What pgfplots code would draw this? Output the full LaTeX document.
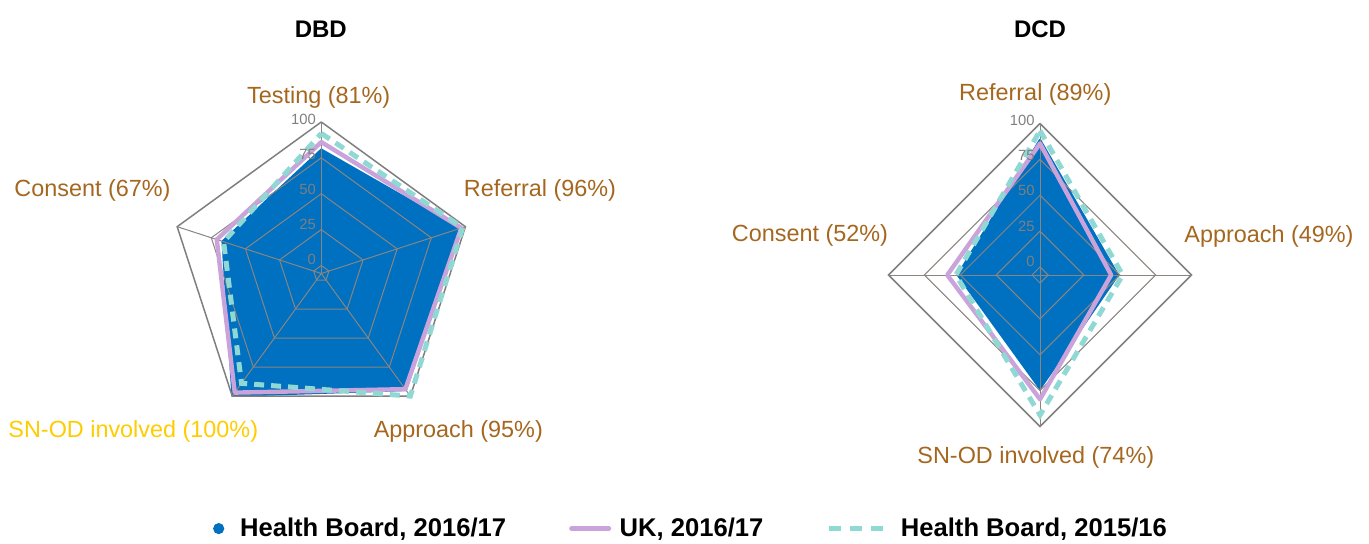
\documentclass[border=0pt]{standalone}
\usepackage{fontspec}
\setmainfont{Liberation Sans}
\usepackage{pgfplots}
\usepackage{pgfplotstable}
\pgfplotsset{compat=1.18}
\definecolor{hbblue}{HTML}{0070C0}
\definecolor{ukpurple}{HTML}{C9A3DA}
\definecolor{hbcyan}{HTML}{8FD8D4}
\definecolor{labbrown}{HTML}{A5671F}
\definecolor{labyellow}{HTML}{FFCC00}
\definecolor{gridgray}{HTML}{8A8580}
\definecolor{outergray}{HTML}{7F7F7F}
\definecolor{ticklab}{HTML}{7F7F7F}

% a = spoke angle (deg), v1 = Health Board 2016/17, v2 = UK 2016/17, v3 = Health Board 2015/16
\pgfplotstableread{
a v1 v2 v3
90 81 86 92
18 96 97 98
-54 95 94 100
-126 100 97 89
162 67 71 66
90 81 86 92
}\dbd
\pgfplotstableread{
a v1 v2 v3
90 89 86 95
0 49 44 52
-90 74 81 92
180 52 59 53
90 89 86 95
}\dcd

\newcommand\labfont{\fontsize{11.7}{14}\selectfont}
\newcommand\tickfont{\fontsize{7.4}{9}\selectfont}
\pgfplotsset{
  radar/.style={x=0.7175pt, y=0.7175pt, xmin=-110, xmax=110, ymin=-110, ymax=110,
    hide axis, clip=false, anchor=center},
  table/rx/.style={x expr={(\thisrow{#1}+5.6)*cos(\thisrow{a})}, y expr={(\thisrow{#1}+5.6)*sin(\thisrow{a})}},
  table/rc/.style={x expr={(#1+5.6)*cos(\thisrow{a})}, y expr={(#1+5.6)*sin(\thisrow{a})}},
}

\begin{document}
\begin{tikzpicture}
\path[use as bounding box] (0pt,0pt) rectangle (684.5pt,271.5pt);

% ---------- DBD ----------
\begin{axis}[radar, at={(160.65pt,134.75pt)},
  legend columns=3,
  legend cell align=left,
  legend style={at={(0.156,-0.308)}, anchor=west, draw=none, fill=none, inner sep=0pt,
    font=\fontsize{12.8}{15}\selectfont\bfseries,
    /tikz/every even column/.append style={column sep=29.5pt}},
]
\addplot[fill=hbblue, draw=hbblue, line width=0.8pt, line join=round,
  legend image code/.code={\path[draw=none, fill=none] (0pt,0pt) -- (11.5pt,0pt); \fill[hbblue, draw=none] (2.8pt,0pt) circle (2.8pt);}]
  table[rx=v1] \dbd;
\addlegendentry{Health Board, 2016/17}
\pgfplotsinvokeforeach{0,25,50,75}{
  \addplot[gridgray, line width=0.5pt, forget plot] table[rc=#1] \dbd;
}
\addplot[outergray, line width=0.75pt, forget plot] table[rc=100] \dbd;
\pgfplotsinvokeforeach{90,18,-54,-126,162}{
  \draw[gridgray, line width=0.5pt] (axis cs:0,0) -- (axis cs:{105.6*cos(#1)},{105.6*sin(#1)});
}
\addplot[ukpurple, line width=2.2pt, line join=round, line cap=round,
  legend image code/.code={\draw[ukpurple, line width=2.5pt] (0pt,0pt) -- (18.5pt,0pt); \path[draw=none, fill=none] (0pt,0pt) -- (22pt,0pt);}]
  table[rx=v2] \dbd;
\addlegendentry{UK, 2016/17}
\addplot[hbcyan, line width=2.5pt, dash pattern=on 5pt off 3.5pt,
  legend image code/.code={\draw[hbcyan, line width=2.5pt, dash pattern=on 6pt off 4.5pt] (0pt,0pt) -- (27pt,0pt); \path[draw=none, fill=none] (0pt,0pt) -- (34pt,0pt);}]
  table[rx=v3] \dbd;
\addlegendentry{Health Board, 2015/16}
\pgfplotsinvokeforeach{0,25,50,75,100}{
  \node[anchor=east, font=\tickfont, text=ticklab, inner sep=2.5pt, yshift={(1.35+0.0165*(100-#1))*1pt}]
    at (axis cs:0,{#1+5.6}) {#1};
}
\end{axis}

% ---------- DCD ----------
\begin{axis}[radar, at={(520pt,134pt)}]
\addplot[fill=hbblue, draw=hbblue, line width=0.8pt, line join=round] table[rx=v1] \dcd;
\pgfplotsinvokeforeach{0,25,50,75}{
  \addplot[gridgray, line width=0.5pt] table[rc=#1] \dcd;
}
\addplot[outergray, line width=0.75pt] table[rc=100] \dcd;
\pgfplotsinvokeforeach{90,0,-90,180}{
  \draw[gridgray, line width=0.5pt] (axis cs:0,0) -- (axis cs:{105.6*cos(#1)},{105.6*sin(#1)});
}
\addplot[ukpurple, line width=2.2pt, line join=round, line cap=round] table[rx=v2] \dcd;
\addplot[hbcyan, line width=2.5pt, dash pattern=on 5pt off 3.5pt] table[rx=v3] \dcd;
\pgfplotsinvokeforeach{0,25,50,75,100}{
  \node[anchor=east, font=\tickfont, text=ticklab, inner sep=2.5pt, yshift={(1.35+0.0165*(100-#1))*1pt}]
    at (axis cs:0,{#1+5.6}) {#1};
}
\end{axis}

% ---------- titles and category labels ----------
\node[anchor=base, font=\fontsize{12}{14}\selectfont\bfseries] at (160.4pt,252.85pt) {DBD};
\node[anchor=base, font=\fontsize{12}{14}\selectfont\bfseries] at (520pt,252.85pt) {DCD};

\node[anchor=base, font=\labfont, text=labbrown] at (159.35pt,220pt) {Testing (81\%)};
\node[anchor=base, font=\labfont, text=labbrown] at (270pt,173.25pt) {Referral (96\%)};
\node[anchor=base, font=\labfont, text=labbrown] at (229.15pt,52.75pt) {Approach (95\%)};
\node[anchor=base, font=\labfont, text=labyellow] at (66.65pt,52.75pt) {SN-OD involved (100\%)};
\node[anchor=base, font=\labfont, text=labbrown] at (46.25pt,173.25pt) {Consent (67\%)};

\node[anchor=base, font=\labfont, text=labbrown] at (517.65pt,221.5pt) {Referral (89\%)};
\node[anchor=base, font=\labfont, text=labbrown] at (634.5pt,150.5pt) {Approach (49\%)};
\node[anchor=base, font=\labfont, text=labbrown] at (405pt,150.75pt) {Consent (52\%)};
\node[anchor=base, font=\labfont, text=labbrown] at (517.9pt,40pt) {SN-OD involved (74\%)};
\end{tikzpicture}
\end{document}
